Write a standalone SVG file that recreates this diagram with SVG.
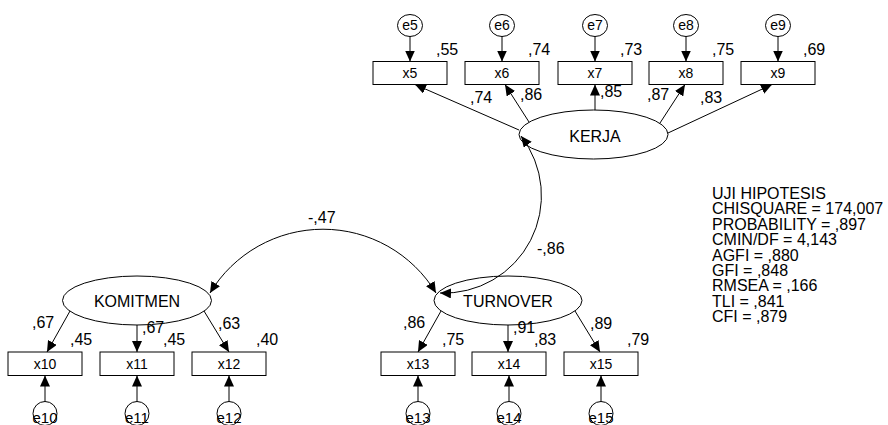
<svg xmlns="http://www.w3.org/2000/svg" width="888" height="425" viewBox="0 0 888 425">
<style>
text{font-family:"Liberation Sans",Arial,sans-serif;fill:#000}
.lbl{font-size:16px}
.box{fill:#fff;stroke:#000;stroke-width:1}
.lat{fill:#fff;stroke:#000;stroke-width:1}
.err{fill:#fff;stroke:#000;stroke-width:1}
.bt{font-size:14px;text-anchor:middle}
.et{font-size:14px;text-anchor:middle}
.eb{font-size:15px;text-anchor:middle}
.lt{font-size:16px;text-anchor:middle}
.path{fill:none;stroke:#000;stroke-width:1;marker-end:url(#ah)}
.cov{fill:none;stroke:#000;stroke-width:1;marker-start:url(#ahs);marker-end:url(#ah)}
</style>
<defs>
<marker id="ah" markerUnits="userSpaceOnUse" markerWidth="11" markerHeight="10" refX="11" refY="5" orient="auto"><path d="M0,0 L11,5 L0,10 z" fill="#000"/></marker>
<marker id="ahs" markerUnits="userSpaceOnUse" markerWidth="11" markerHeight="10" refX="11" refY="5" orient="auto-start-reverse"><path d="M0,0 L11,5 L0,10 z" fill="#000"/></marker>
</defs>
<rect width="888" height="425" fill="#fff"/>

<g id="e5"><ellipse class="err" cx="410" cy="25.5" rx="12.5" ry="11"/><text class="et" x="410" y="30">e5</text></g>
<g id="e6"><ellipse class="err" cx="502" cy="25.5" rx="12.5" ry="11"/><text class="et" x="502" y="30">e6</text></g>
<g id="e7"><ellipse class="err" cx="595" cy="25.5" rx="12.5" ry="11"/><text class="et" x="595" y="30">e7</text></g>
<g id="e8"><ellipse class="err" cx="686" cy="25.5" rx="12.5" ry="11"/><text class="et" x="686" y="30">e8</text></g>
<g id="e9"><ellipse class="err" cx="778" cy="25.5" rx="12.5" ry="11"/><text class="et" x="778" y="30">e9</text></g>

<g id="x5"><rect class="box" x="373" y="61.5" width="74" height="23"/><text class="bt" x="410" y="78">x5</text></g>
<g id="x6"><rect class="box" x="465" y="61.5" width="74" height="23"/><text class="bt" x="502" y="78">x6</text></g>
<g id="x7"><rect class="box" x="558" y="61.5" width="74" height="23"/><text class="bt" x="595" y="78">x7</text></g>
<g id="x8"><rect class="box" x="649" y="61.5" width="74" height="23"/><text class="bt" x="686" y="78">x8</text></g>
<g id="x9"><rect class="box" x="741" y="61.5" width="74" height="23"/><text class="bt" x="778" y="78">x9</text></g>

<g id="KERJA"><ellipse class="lat" cx="593.5" cy="134.5" rx="74.5" ry="24.5"/><text class="lt" x="595" y="142">KERJA</text></g>
<g id="KOMITMEN"><ellipse class="lat" cx="137" cy="300.5" rx="74.5" ry="24.5"/><text class="lt" x="137" y="307">KOMITMEN</text></g>
<g id="TURNOVER"><ellipse class="lat" cx="508" cy="300.5" rx="74" ry="24.5"/><text class="lt" x="508" y="307">TURNOVER</text></g>

<g id="x10"><rect class="box" x="8" y="352" width="74" height="23.5"/><text class="bt" x="45" y="369">x10</text></g>
<g id="x11"><rect class="box" x="100" y="352" width="74" height="23.5"/><text class="bt" x="137" y="369">x11</text></g>
<g id="x12"><rect class="box" x="192" y="352" width="74" height="23.5"/><text class="bt" x="229" y="369">x12</text></g>
<g id="x13"><rect class="box" x="381" y="352" width="74" height="23.5"/><text class="bt" x="418" y="369">x13</text></g>
<g id="x14"><rect class="box" x="472" y="352" width="74" height="23.5"/><text class="bt" x="509" y="369">x14</text></g>
<g id="x15"><rect class="box" x="564" y="352" width="74" height="23.5"/><text class="bt" x="601" y="369">x15</text></g>

<g id="e10"><circle class="err" cx="45" cy="413.5" r="12"/><text class="eb" x="45" y="423">e10</text></g>
<g id="e11"><circle class="err" cx="137" cy="413.5" r="12"/><text class="eb" x="137" y="423">e11</text></g>
<g id="e12"><circle class="err" cx="229" cy="413.5" r="12"/><text class="eb" x="229" y="423">e12</text></g>
<g id="e13"><circle class="err" cx="418" cy="413.5" r="12"/><text class="eb" x="418" y="423">e13</text></g>
<g id="e14"><circle class="err" cx="509" cy="413.5" r="12"/><text class="eb" x="509" y="423">e14</text></g>
<g id="e15"><circle class="err" cx="601" cy="413.5" r="12"/><text class="eb" x="601" y="423">e15</text></g>

<g id="connectors">
<line class="path" x1="410" y1="36.5" x2="410" y2="61.5"/>
<line class="path" x1="502" y1="36.5" x2="502" y2="61.5"/>
<line class="path" x1="595" y1="36.5" x2="595" y2="61.5"/>
<line class="path" x1="686" y1="36.5" x2="686" y2="61.5"/>
<line class="path" x1="778" y1="36.5" x2="778" y2="61.5"/>
<line class="path" x1="519" y1="130" x2="415" y2="84.5"/>
<line class="path" x1="529" y1="122" x2="505" y2="84.5"/>
<line class="path" x1="595" y1="110" x2="595" y2="84.5"/>
<line class="path" x1="660" y1="123" x2="685" y2="84.5"/>
<line class="path" x1="668" y1="133" x2="772" y2="84.5"/>
<line class="path" x1="70" y1="311" x2="47" y2="352"/>
<line class="path" x1="137" y1="325" x2="137" y2="352"/>
<line class="path" x1="204" y1="311" x2="229" y2="352"/>
<line class="path" x1="441" y1="311" x2="418" y2="352"/>
<line class="path" x1="508" y1="325" x2="508" y2="352"/>
<line class="path" x1="575" y1="311" x2="600" y2="352"/>
<line class="path" x1="45" y1="401.5" x2="45" y2="375.5"/>
<line class="path" x1="137" y1="401.5" x2="137" y2="375.5"/>
<line class="path" x1="229" y1="401.5" x2="229" y2="375.5"/>
<line class="path" x1="418" y1="401.5" x2="418" y2="375.5"/>
<line class="path" x1="509" y1="401.5" x2="509" y2="375.5"/>
<line class="path" x1="601" y1="401.5" x2="601" y2="375.5"/>
<path class="cov" d="M521,136 A97.4,97.4 0 0 1 440,293"/>
<path class="cov" d="M210,293 A132,132 0 0 1 436,293"/>
</g>

<g id="labels" class="lbl">
<text x="436" y="55">,55</text>
<text x="528" y="55">,74</text>
<text x="620" y="55">,73</text>
<text x="712" y="55">,75</text>
<text x="803" y="55">,69</text>
<text x="470" y="103">,74</text>
<text x="520" y="100">,86</text>
<text x="600" y="97">,85</text>
<text x="647" y="100">,87</text>
<text x="700" y="103">,83</text>
<text x="32" y="328">,67</text>
<text x="70" y="345">,45</text>
<text x="142" y="333">,67</text>
<text x="163" y="345">,45</text>
<text x="218" y="329">,63</text>
<text x="256" y="345">,40</text>
<text x="403" y="328">,86</text>
<text x="442" y="345">,75</text>
<text x="513" y="333">,91</text>
<text x="534" y="345">,83</text>
<text x="590" y="329">,89</text>
<text x="627" y="345">,79</text>
<text x="308" y="223">-,47</text>
<text x="537" y="254">-,86</text>
</g>

<g id="fit" class="lbl">
<text x="712" y="199">UJI HIPOTESIS</text>
<text x="712" y="214.4">CHISQUARE = 174,007</text>
<text x="712" y="229.8">PROBABILITY = ,897</text>
<text x="712" y="245.2">CMIN/DF = 4,143</text>
<text x="712" y="260.6">AGFI = ,880</text>
<text x="712" y="276">GFI = ,848</text>
<text x="712" y="291.4">RMSEA = ,166</text>
<text x="712" y="306.8">TLI = ,841</text>
<text x="712" y="322.2">CFI = ,879</text>
</g>
</svg>
